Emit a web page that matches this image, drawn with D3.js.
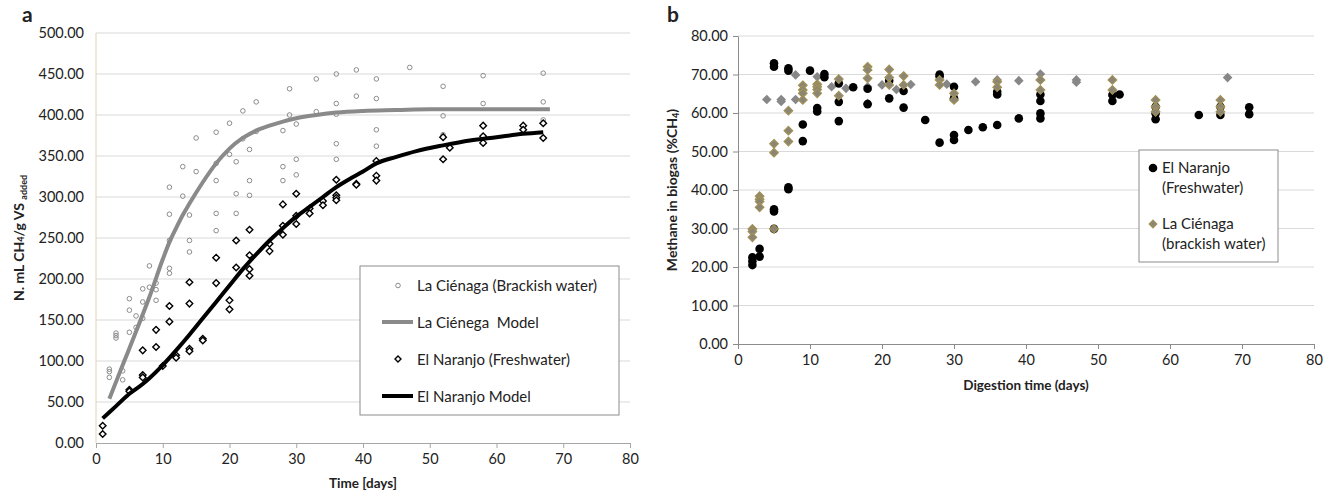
<!DOCTYPE html>
<html>
<head>
<meta charset="utf-8">
<script src="https://d3js.org/d3.v7.min.js"></script>
<style>
  body { margin: 0; background: #fff; }
  svg text { font-family: Lato, "Open Sans", sans-serif; fill: #222; }
</style>
</head>
<body>
<svg id="chart" width="1336" height="497"></svg>
<script>
// ---- panel a: cumulative methane yield, [day, N.mL CH4/g VS added]
var cienagaPts = [
  [2,90],[2,87],[2,80],[3,134],[3,131],[3,128],[4,88],[4,77],
  [5,176],[5,162],[5,135],[6,155],[6,141],[7,188],[7,172],[7,152],
  [8,216],[8,190],[9,195],[9,187],[9,174],
  [11,312],[11,279],[11,247],[11,213],[11,207],[13,337],[13,301],
  [14,278],[14,247],[14,233],[15,372],[15,331],
  [18,379],[18,341],[18,320],[18,280],[18,259],[20,390],[20,352],
  [21,343],[21,304],[21,280],[22,405],[22,371],[23,358],[23,320],[23,302],
  [24,416],[24,380],[28,381],[28,337],[28,320],[29,432],[29,400],
  [30,389],[30,346],[30,327],[33,444],[33,404],
  [36,450],[36,414],[36,401],[36,365],[36,346],[39,455],[39,423],
  [42,444],[42,420],[42,382],[42,362],[47,458],[52,435],[52,399],[52,376],
  [58,448],[58,414],[67,451],[67,416],[67,394]
];
var naranjoPts = [
  [1,21],[1,11],[5,65],[5,63],[7,113],[7,83],[7,80],[9,138],[9,117],[10,94],
  [11,167],[11,148],[12,107],[12,104],[14,196],[14,170],[14,115],[14,112],
  [16,127],[16,125],[18,226],[18,195],[20,174],[20,163],[21,247],[21,214],
  [23,260],[23,229],[23,212],[23,204],[26,243],[26,234],
  [28,291],[28,265],[28,254],[30,304],[30,277],[30,267],[32,286],[32,280],
  [34,295],[34,290],[36,321],[36,302],[36,299],[36,296],[39,316],[39,315],
  [42,344],[42,326],[42,320],[52,373],[52,346],[53,360],
  [58,387],[58,374],[58,366],[64,387],[64,382],[67,390],[67,372]
];
var cienagaModel = [
  [2,54],[4,95],[6,136],[8,178],[10,224],[11,245],[12,262],[13,278],[14,292],
  [16,318],[18,341],[20,359],[22,372],[24,381],[26,387],[28,392],[30,396],
  [33,400],[36,403],[40,405],[45,406],[50,407],[60,407],[68,407]
];
var naranjoModel = [
  [1,30],[3,45],[5,60],[7,72],[8,79],[10,95],[12,113],[14,132],[16,152],
  [18,172],[20,192],[22,212],[24,230],[26,247],[28,262],[30,276],[32,288],
  [34,300],[36,312],[38,322],[40,331],[42,341],[45,349],[48,356],[52,363],
  [56,369],[60,373],[64,377],[67,379]
];
var yTicksA = d3.range(0, 501, 50);
var xTicks = d3.range(0, 81, 10);

// ---- panel b: methane content, [day, %CH4]
var naranjoPct = [
  [2,20.5],[2,21.5],[2,22.5],[3,22.7],[3,24.7],
  [5,72.9],[5,72.0],[5,35.0],[5,34.4],[5,29.9],[7,71.6],[7,71.0],[7,40.7],[7,40.2],
  [9,57.0],[9,52.7],[10,71.0],[11,61.3],[11,60.4],[12,70.1],[12,69.3],
  [14,67.7],[14,62.9],[14,57.9],[16,66.7],[18,66.3],[18,62.3],[21,68.4],[21,63.8],
  [23,65.7],[23,61.4],[26,58.2],[28,70.0],[28,69.5],[28,52.3],
  [30,66.8],[30,63.8],[30,54.3],[30,53.0],[32,55.6],[34,56.3],
  [36,65.5],[36,64.8],[36,56.9],[39,58.6],[42,64.8],[42,63.1],[42,59.9],[42,58.6],
  [52,64.7],[52,63.1],[53,64.8],[58,61.6],[58,59.9],[58,58.4],[64,59.5],
  [67,61.6],[67,59.5],[71,61.5],[71,59.7]
];
var cienagaPct = [
  [2,29.9],[2,29.2],[2,27.7],[3,38.4],[3,37.6],[3,37.0],[3,35.5],
  [5,52.0],[5,49.7],[5,29.9],[7,60.6],[7,55.4],[7,52.6],
  [9,67.2],[9,66.0],[9,65.1],[9,63.4],[11,67.5],[11,66.8],[11,66.1],[11,65.1],
  [14,68.8],[14,64.5],[18,72.0],[18,71.2],[18,69.0],[21,71.3],[21,69.2],[21,67.3],
  [23,69.6],[23,67.3],[28,68.6],[28,67.3],[30,65.1],[30,63.4],
  [36,68.1],[36,66.7],[42,68.6],[42,66.0],[52,68.6],[52,66.0],
  [58,63.4],[58,61.6],[58,60.3],[67,63.4],[67,61.6],[67,60.3]
];
var cienagaPct2 = [
  [4,63.5],[6,63.5],[6,63.0],[8,69.9],[8,63.5],[11,69.4],[13,66.8],[15,66.4],
  [18,66.8],[18,62.5],[20,67.3],[22,66.1],[24,67.4],[29,67.5],[33,68.1],
  [36,68.6],[39,68.4],[42,70.1],[42,68.6],[47,68.6],[47,68.0],[68,69.2]
];
var yTicksB = d3.range(0, 81, 10);

var svg = d3.select("#chart");
// square diamond, s = half diagonal
function diamond(s) { return "M0," + (-s) + "L" + s + ",0L0," + s + "L" + (-s) + ",0Z"; }

// ================= panel a =================
var xA = d3.scaleLinear().domain([0, 80]).range([96, 630]);
var yA = d3.scaleLinear().domain([0, 500]).range([443, 33]);
var ga = svg.append("g");

ga.selectAll("line.grid").data(yTicksA.slice(1)).enter().append("line")
  .attr("x1", xA(0)).attr("x2", xA(80))
  .attr("y1", d => yA(d)).attr("y2", d => yA(d))
  .attr("stroke", "#d9d9d9").attr("stroke-width", 1);

ga.append("line").attr("x1", xA(0)).attr("x2", xA(0)).attr("y1", yA(0)).attr("y2", yA(500))
  .attr("stroke", "#ddd3b3").attr("stroke-width", 1);

var axA = ga.append("g").attr("transform", "translate(0," + yA(0) + ")")
  .call(d3.axisBottom(xA).tickValues(xTicks).tickSize(5).tickSizeOuter(0).tickPadding(6));
axA.select(".domain").attr("stroke", "#a6a6a6");
axA.selectAll(".tick line").attr("stroke", "#a6a6a6");
axA.selectAll("text").style("font-size", "14.5px").attr("fill", "#222");

var ayA = ga.append("g").attr("transform", "translate(" + xA(0) + ",0)")
  .call(d3.axisLeft(yA).tickValues(yTicksA).tickSize(0).tickPadding(12).tickFormat(d3.format(".2f")));
ayA.select(".domain").remove();
ayA.selectAll("text").style("font-size", "14.5px").attr("fill", "#222");

ga.selectAll("circle.cien").data(cienagaPts).enter().append("circle")
  .attr("cx", d => xA(d[0])).attr("cy", d => yA(d[1])).attr("r", 2.3)
  .attr("fill", "none").attr("stroke", "#8c8c8c").attr("stroke-width", 1);

ga.selectAll("path.nar").data(naranjoPts).enter().append("path")
  .attr("d", diamond(3.3))
  .attr("transform", d => "translate(" + xA(d[0]) + "," + yA(d[1]) + ")")
  .attr("fill", "#fff").attr("stroke", "#000").attr("stroke-width", 1.4);

var lineA = d3.line().x(d => xA(d[0])).y(d => yA(d[1])).curve(d3.curveMonotoneX);
ga.append("path").datum(cienagaModel).attr("d", lineA)
  .attr("fill", "none").attr("stroke", "#8a8a8a").attr("stroke-width", 4);
ga.append("path").datum(naranjoModel).attr("d", lineA)
  .attr("fill", "none").attr("stroke", "#000").attr("stroke-width", 4);

ga.append("text").attr("x", 22).attr("y", 22).style("font-size", "21px").style("font-weight", "bold").text("a");
ga.append("text").attr("x", 363).attr("y", 488).attr("text-anchor", "middle")
  .style("font-size", "13.5px").style("font-weight", "bold").text("Time [days]");
var ylabA = ga.append("text").attr("transform", "translate(24,238) rotate(-90)")
  .attr("text-anchor", "middle").style("font-size", "14px").style("font-weight", "bold");
ylabA.append("tspan").text("N. mL CH");
ylabA.append("tspan").style("font-size", "9px").text("4");
ylabA.append("tspan").text("/g VS ");
ylabA.append("tspan").style("font-size", "9px").attr("dy", 3).text("added");

// legend a
var lg = ga.append("g");
lg.append("rect").attr("x", 360).attr("y", 266).attr("width", 259).attr("height", 149)
  .attr("fill", "#fff").attr("stroke", "#8c8c8c").attr("stroke-width", 1);
lg.append("circle").attr("cx", 398).attr("cy", 285.5).attr("r", 2.3)
  .attr("fill", "none").attr("stroke", "#8c8c8c").attr("stroke-width", 1);
lg.append("line").attr("x1", 382).attr("x2", 413).attr("y1", 322).attr("y2", 322)
  .attr("stroke", "#8a8a8a").attr("stroke-width", 4);
lg.append("path").attr("d", diamond(3)).attr("transform", "translate(398,359)")
  .attr("fill", "#fff").attr("stroke", "#000").attr("stroke-width", 1.4);
lg.append("line").attr("x1", 382).attr("x2", 413).attr("y1", 396).attr("y2", 396)
  .attr("stroke", "#000").attr("stroke-width", 4);
var legA = ["La Ciénaga (Brackish water)", "La Ciénega  Model", "El Naranjo (Freshwater)", "El Naranjo Model"];
lg.selectAll("text").data(legA).enter().append("text")
  .attr("x", 417).attr("y", (d, i) => 291 + i * 37)
  .style("font-size", "15px").style("white-space", "pre").attr("xml:space", "preserve").text(d => d);

// ================= panel b =================
var xB = d3.scaleLinear().domain([0, 80]).range([738, 1314]);
var yB = d3.scaleLinear().domain([0, 80]).range([344, 36]);
var gb = svg.append("g");

gb.selectAll("line.grid").data(yTicksB.slice(1)).enter().append("line")
  .attr("x1", xB(0)).attr("x2", xB(80))
  .attr("y1", d => yB(d)).attr("y2", d => yB(d))
  .attr("stroke", "#d9d9d9").attr("stroke-width", 1);

var axB = gb.append("g").attr("transform", "translate(0," + yB(0) + ")")
  .call(d3.axisBottom(xB).tickValues(xTicks).tickSize(5).tickSizeOuter(0).tickPadding(6));
axB.select(".domain").attr("stroke", "#8c8c8c");
axB.selectAll(".tick line").attr("stroke", "#8c8c8c");
axB.selectAll("text").style("font-size", "14.5px").attr("fill", "#222");

var ayB = gb.append("g").attr("transform", "translate(" + xB(0) + ",0)")
  .call(d3.axisLeft(yB).tickValues(yTicksB).tickSize(5).tickSizeOuter(0).tickPadding(5).tickFormat(d3.format(".2f")));
ayB.select(".domain").attr("stroke", "#8c8c8c");
ayB.selectAll(".tick line").attr("stroke", "#8c8c8c");
ayB.selectAll("text").style("font-size", "14.5px").attr("fill", "#222");

gb.selectAll("path.c2").data(cienagaPct2).enter().append("path")
  .attr("d", diamond(4.8))
  .attr("transform", d => "translate(" + xB(d[0]) + "," + yB(d[1]) + ")")
  .attr("fill", "#878787");

gb.selectAll("circle.nar").data(naranjoPct).enter().append("circle")
  .attr("cx", d => xB(d[0])).attr("cy", d => yB(d[1])).attr("r", 4.3)
  .attr("fill", "#000");

gb.selectAll("path.c1").data(cienagaPct).enter().append("path")
  .attr("d", diamond(4.3))
  .attr("transform", d => "translate(" + xB(d[0]) + "," + yB(d[1]) + ")")
  .attr("fill", "#8a8676").attr("stroke", "#a39156").attr("stroke-width", 1.2);

gb.append("text").attr("x", 667).attr("y", 22).style("font-size", "21px").style("font-weight", "bold").text("b");
gb.append("text").attr("x", 1026).attr("y", 390).attr("text-anchor", "middle")
  .style("font-size", "13.5px").style("font-weight", "bold").text("Digestion time (days)");
var ylabB = gb.append("text").attr("transform", "translate(677,190) rotate(-90)")
  .attr("text-anchor", "middle").style("font-size", "14px").style("font-weight", "bold");
ylabB.append("tspan").text("Methane in biogas (%CH");
ylabB.append("tspan").style("font-size", "9px").attr("dy", 2).text("4");
ylabB.append("tspan").attr("dy", -2).text(")");

// legend b
var lb = gb.append("g");
lb.append("rect").attr("x", 1139).attr("y", 150).attr("width", 139).attr("height", 112)
  .attr("fill", "#fff").attr("stroke", "#8c8c8c").attr("stroke-width", 1);
lb.append("circle").attr("cx", 1153).attr("cy", 168).attr("r", 4.3).attr("fill", "#000");
lb.append("path").attr("d", diamond(3.8)).attr("transform", "translate(1153,224)")
  .attr("fill", "#8a8676").attr("stroke", "#a39156").attr("stroke-width", 1.2);
var legB = [["El Naranjo", 173], ["(Freshwater)", 193], ["La Ciénaga", 229], ["(brackish water)", 248.5]];
lb.selectAll("text").data(legB).enter().append("text")
  .attr("x", 1162).attr("y", d => d[1]).style("font-size", "15px").text(d => d[0]);
</script>
</body>
</html>
